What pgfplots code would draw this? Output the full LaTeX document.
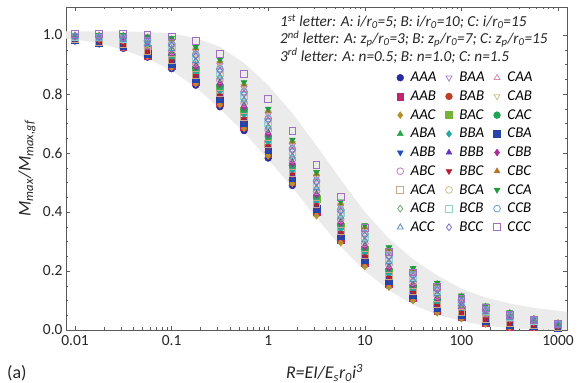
\documentclass[border=0pt]{standalone}
\usepackage{pgfplots}
\pgfplotsset{compat=1.18}
\usepackage{pgfplotstable}
\usepackage{fontspec}
\setmainfont{Carlito}

\definecolor{bandgray}{HTML}{EBEBEB}
\definecolor{axgray}{HTML}{5A5A5A}
\definecolor{cAAA}{HTML}{2A2AA0}
\definecolor{cBAA}{HTML}{A880D0}
\definecolor{cCAA}{HTML}{D888A8}
\definecolor{cAAB}{HTML}{C0246F}
\definecolor{cBAB}{HTML}{BC4028}
\definecolor{cCAB}{HTML}{CCC080}
\definecolor{cAAC}{HTML}{B3922A}
\definecolor{cBAC}{HTML}{74B238}
\definecolor{cCAC}{HTML}{1EA456}
\definecolor{cABA}{HTML}{2AA64A}
\definecolor{cBBA}{HTML}{26A6A6}
\definecolor{cCBA}{HTML}{2444AA}
\definecolor{cABB}{HTML}{2050C0}
\definecolor{cBBB}{HTML}{6434C0}
\definecolor{cCBB}{HTML}{AC2C98}
\definecolor{cABC}{HTML}{D07AC0}
\definecolor{cBBC}{HTML}{B41E32}
\definecolor{cCBC}{HTML}{B4762C}
\definecolor{cACA}{HTML}{C8A888}
\definecolor{cBCA}{HTML}{CCC090}
\definecolor{cCCA}{HTML}{1E9C3C}
\definecolor{cACB}{HTML}{6AAE6A}
\definecolor{cBCB}{HTML}{90D0CC}
\definecolor{cCCB}{HTML}{6A9CC8}
\definecolor{cACC}{HTML}{5A8FC0}
\definecolor{cBCC}{HTML}{8070C8}
\definecolor{cCCC}{HTML}{A070C0}

\pgfplotsset{
  mk/.style={only marks, mark size=3.4bp},
  fm/.style 2 args={mk, mark=#1, color=#2, mark options={solid, fill=#2, draw=#2, line width=0.5bp}},
  om/.style 2 args={mk, mark=#1, color=#2, mark options={solid, fill=none, draw=#2, line width=0.8bp}},
  fd/.style={mk, mark=triangle*, color=#1, mark options={solid, rotate=180, fill=#1, draw=#1, line width=0.5bp}},
  od/.style={mk, mark=triangle, color=#1, mark options={solid, rotate=180, fill=none, draw=#1, line width=0.8bp}},
}

\pgfplotstableread{
R AAA AAC AAB BAB CBA ABB BBC ACA BBA ABA BAC CAC CBB BBB ABC ACB ACC BCA BCB BCC CCB CAA BAA CAB CBC CCA CCC
0.01 .980 .981 .982 .982 .983 .984 .985 .986 .986 .987 .988 .989 .990 .990 .991 .992 .993 .994 .994 .995 .996 .997 .998 .998 .999 1.000 1.005
0.01778 .970 .971 .972 .974 .975 .976 .977 .978 .980 .981 .982 .983 .984 .986 .987 .988 .989 .990 .992 .993 .994 .995 .996 .998 .999 1.000 1.005
0.03162 .955 .957 .959 .960 .962 .964 .966 .968 .969 .971 .973 .975 .977 .978 .980 .982 .984 .986 .987 .989 .991 .993 .995 .996 .998 1.000 1.005
0.05623 .925 .928 .931 .933 .936 .939 .942 .945 .947 .950 .953 .956 .959 .961 .964 .967 .970 .973 .975 .978 .981 .984 .987 .989 .992 .995 1.000
0.1 .886 .890 .894 .899 .903 .907 .911 .915 .919 .923 .928 .932 .936 .940 .944 .948 .953 .957 .961 .965 .969 .973 .978 .982 .986 .990 .995
0.1778 .830 .835 .840 .846 .851 .856 .861 .866 .872 .877 .882 .887 .892 .898 .903 .908 .913 .918 .924 .929 .934 .939 .944 .950 .955 .960 .980
0.3162 .757 .763 .770 .776 .783 .789 .795 .802 .808 .815 .821 .827 .834 .840 .847 .853 .859 .866 .872 .879 .885 .891 .898 .904 .911 .917 .937
0.5623 .676 .683 .689 .696 .702 .709 .715 .722 .729 .735 .742 .748 .755 .761 .768 .774 .781 .788 .794 .801 .807 .814 .820 .827 .833 .840 .868
1 .583 .590 .596 .603 .610 .616 .623 .630 .636 .643 .650 .657 .663 .670 .677 .683 .690 .697 .703 .710 .717 .723 .730 .737 .743 .750 .783
1.778 .490 .496 .502 .509 .515 .521 .527 .533 .540 .546 .552 .558 .564 .571 .577 .583 .589 .595 .602 .608 .614 .620 .626 .633 .639 .645 .675
3.162 .393 .387 .399 .405 .411 .417 .423 .428 .434 .440 .446 .452 .458 .464 .470 .476 .482 .488 .494 .500 .505 .511 .517 .523 .529 .535 .560
5.623 .302 .296 .307 .313 .318 .324 .329 .335 .341 .346 .352 .357 .363 .368 .374 .379 .385 .391 .396 .402 .407 .413 .418 .424 .429 .435 .450
10 .221 .215 .226 .232 .237 .243 .249 .254 .260 .265 .271 .277 .282 .288 .293 .299 .305 .310 .316 .321 .327 .333 .338 .344 .349 .355 .345
17.78 .150 .145 .156 .161 .167 .172 .177 .183 .188 .194 .199 .204 .210 .215 .221 .226 .231 .237 .242 .248 .253 .258 .264 .269 .275 .280 .265
31.62 .104 .100 .109 .113 .118 .122 .126 .131 .135 .140 .144 .148 .153 .157 .162 .166 .170 .175 .179 .184 .188 .192 .197 .201 .206 .210 .195
56.23 .062 .058 .066 .070 .074 .078 .082 .087 .091 .095 .099 .103 .107 .111 .115 .119 .123 .127 .131 .136 .140 .144 .148 .152 .156 .160 .145
100 .041 .038 .044 .047 .051 .054 .057 .060 .063 .066 .070 .073 .076 .079 .082 .085 .089 .092 .095 .098 .101 .104 .108 .111 .114 .117 .105
177.8 .023 .020 .025 .028 .030 .033 .035 .038 .040 .043 .045 .048 .050 .053 .055 .058 .060 .063 .065 .068 .070 .073 .075 .078 .080 .083 .075
316.2 .010 .008 .012 .014 .016 .018 .020 .023 .025 .027 .029 .031 .033 .035 .037 .039 .041 .043 .045 .048 .050 .052 .054 .056 .058 .060 .052
562.3 .009 .008 .011 .012 .013 .014 .016 .017 .018 .020 .021 .022 .023 .025 .026 .027 .029 .030 .031 .032 .034 .035 .036 .037 .039 .040 .035
1000 .006 .005 .007 .007 .008 .009 .010 .011 .011 .012 .013 .014 .015 .015 .016 .017 .018 .019 .019 .020 .021 .022 .023 .023 .024 .025 .022
}\data

\begin{document}
\begin{tikzpicture}
\begin{axis}[
  name=ax,
  scale only axis,
  width=501bp, height=323bp,
  xmode=log,
  xmin=0.00807, xmax=1239,
  ymin=0, ymax=1.095,
  xtick={0.01,0.1,1,10,100,1000},
  xticklabels={0.01,0.1,1,10,100,1000},
  minor xtick={0.02,0.03,0.04,0.05,0.06,0.07,0.08,0.09,0.2,0.3,0.4,0.5,0.6,0.7,0.8,0.9,2,3,4,5,6,7,8,9,20,30,40,50,60,70,80,90,200,300,400,500,600,700,800,900},
  ytick={0,0.2,0.4,0.6,0.8,1.0},
  minor y tick num=3,
  tick align=inside,
  major tick length=4bp,
  minor tick length=2.5bp,
  axis line style={axgray, line width=0.6bp},
  every tick/.style={axgray, line width=0.5bp},
  /pgf/number format/assume math mode=true,
  yticklabel style={/pgf/number format/.cd, fixed, fixed zerofill, precision=1},
  tick label style={font=\fontsize{15.5}{15.5}\selectfont, text=black!85},
  xticklabel style={yshift=-2bp},
  every axis y label/.style={at={(axis description cs:-0.078,0.5)}, rotate=90, anchor=center},
  every axis x label/.style={at={(axis description cs:0.516,-0.133)}, anchor=center},
  label style={font=\fontsize{18}{18}\selectfont, text=black!85},
  ylabel={\itshape M\textsubscript{max}/M\textsubscript{max,gf}},
  xlabel={\itshape R=EI/E\textsubscript{s}r\textsubscript{0}i\textsuperscript{3}},
  legend columns=3,
  legend cell align=left,
  legend style={draw=none, fill=none, at={(rel axis cs:0.66,0.802)}, anchor=north west,
    font=\fontsize{15}{15}\selectfont\itshape, inner sep=0pt, row sep=5.5bp,
    nodes={inner sep=1bp},
    /tikz/every odd column/.append style={column sep=6bp},
    /tikz/every even column/.append style={column sep=8bp}},
  clip=true,
]
\addplot[fill=bandgray, draw=none, forget plot] coordinates {
(0.00807,1.012) (0.0316,1.012) (0.0562,1.010) (0.1,1.005) (0.1778,0.99) (0.3162,0.96) (0.5623,0.905) (1,0.83) (1.778,0.735) (3.162,0.625) (5.623,0.51) (10,0.40) (17.78,0.31) (31.62,0.24) (56.23,0.185) (100,0.14) (177.8,0.11) (316.2,0.09) (562.3,0.075) (1000,0.065) (1239,0.062)
(1239,0) (562.3,0.002) (316.2,0.006) (177.8,0.015) (100,0.03) (56.23,0.052) (31.62,0.085) (17.78,0.135) (10,0.2) (5.623,0.283) (3.162,0.38) (1.778,0.483) (1,0.578) (0.5623,0.67) (0.3162,0.75) (0.1778,0.823) (0.1,0.88) (0.0562,0.92) (0.0316,0.95) (0.01778,0.972) (0.01,0.985) (0.00807,0.988)
} -- cycle;

\addplot[fm={*}{cAAA}] table[x=R,y=AAA]{\data}; \addlegendentry{AAA}
\addplot[od={cBAA}] table[x=R,y=BAA]{\data}; \addlegendentry{BAA}
\addplot[om={triangle}{cCAA}] table[x=R,y=CAA]{\data}; \addlegendentry{CAA}
\addplot[fm={square*}{cAAB}] table[x=R,y=AAB]{\data}; \addlegendentry{AAB}
\addplot[fm={*}{cBAB}] table[x=R,y=BAB]{\data}; \addlegendentry{BAB}
\addplot[od={cCAB}] table[x=R,y=CAB]{\data}; \addlegendentry{CAB}
\addplot[fm={diamond*}{cAAC}] table[x=R,y=AAC]{\data}; \addlegendentry{AAC}
\addplot[fm={square*}{cBAC}] table[x=R,y=BAC]{\data}; \addlegendentry{BAC}
\addplot[fm={*}{cCAC}] table[x=R,y=CAC]{\data}; \addlegendentry{CAC}
\addplot[fm={triangle*}{cABA}] table[x=R,y=ABA]{\data}; \addlegendentry{ABA}
\addplot[fm={diamond*}{cBBA}] table[x=R,y=BBA]{\data}; \addlegendentry{BBA}
\addplot[fm={square*}{cCBA}] table[x=R,y=CBA]{\data}; \addlegendentry{CBA}
\addplot[fd={cABB}] table[x=R,y=ABB]{\data}; \addlegendentry{ABB}
\addplot[fm={triangle*}{cBBB}] table[x=R,y=BBB]{\data}; \addlegendentry{BBB}
\addplot[fm={diamond*}{cCBB}] table[x=R,y=CBB]{\data}; \addlegendentry{CBB}
\addplot[om={o}{cABC}] table[x=R,y=ABC]{\data}; \addlegendentry{ABC}
\addplot[fd={cBBC}] table[x=R,y=BBC]{\data}; \addlegendentry{BBC}
\addplot[fm={triangle*}{cCBC}] table[x=R,y=CBC]{\data}; \addlegendentry{CBC}
\addplot[om={square}{cACA}] table[x=R,y=ACA]{\data}; \addlegendentry{ACA}
\addplot[om={o}{cBCA}] table[x=R,y=BCA]{\data}; \addlegendentry{BCA}
\addplot[fd={cCCA}] table[x=R,y=CCA]{\data}; \addlegendentry{CCA}
\addplot[om={diamond}{cACB}] table[x=R,y=ACB]{\data}; \addlegendentry{ACB}
\addplot[om={square}{cBCB}] table[x=R,y=BCB]{\data}; \addlegendentry{BCB}
\addplot[om={o}{cCCB}] table[x=R,y=CCB]{\data}; \addlegendentry{CCB}
\addplot[om={triangle}{cACC}] table[x=R,y=ACC]{\data}; \addlegendentry{ACC}
\addplot[om={diamond}{cBCC}] table[x=R,y=BCC]{\data}; \addlegendentry{BCC}
\addplot[om={square}{cCCC}] table[x=R,y=CCC]{\data}; \addlegendentry{CCC}

\node[anchor=north west, align=left, inner sep=0pt, font=\fontsize{15.3}{17.5}\selectfont\itshape, text=black!85]
  at (rel axis cs:0.427,0.978)
  {1\textsuperscript{st} letter: A: i/r\textsubscript{0}=5; B: i/r\textsubscript{0}=10; C: i/r\textsubscript{0}=15\\
   2\textsuperscript{nd} letter: A: z\textsubscript{p}/r\textsubscript{0}=3; B: z\textsubscript{p}/r\textsubscript{0}=7; C: z\textsubscript{p}/r\textsubscript{0}=15\\
   3\textsuperscript{rd} letter: A: n=0.5; B: n=1.0; C: n=1.5};
\end{axis}
\node[anchor=west, font=\fontsize{18}{18}\selectfont, text=black!85, inner sep=0pt] at ([shift={(-59bp,-43bp)}]ax.south west) {(a)};
\pgfresetboundingbox
\path[use as bounding box] ([shift={(-66bp,-53bp)}]ax.south west) rectangle ([shift={(11bp,7bp)}]ax.north east);
\end{tikzpicture}
\end{document}
